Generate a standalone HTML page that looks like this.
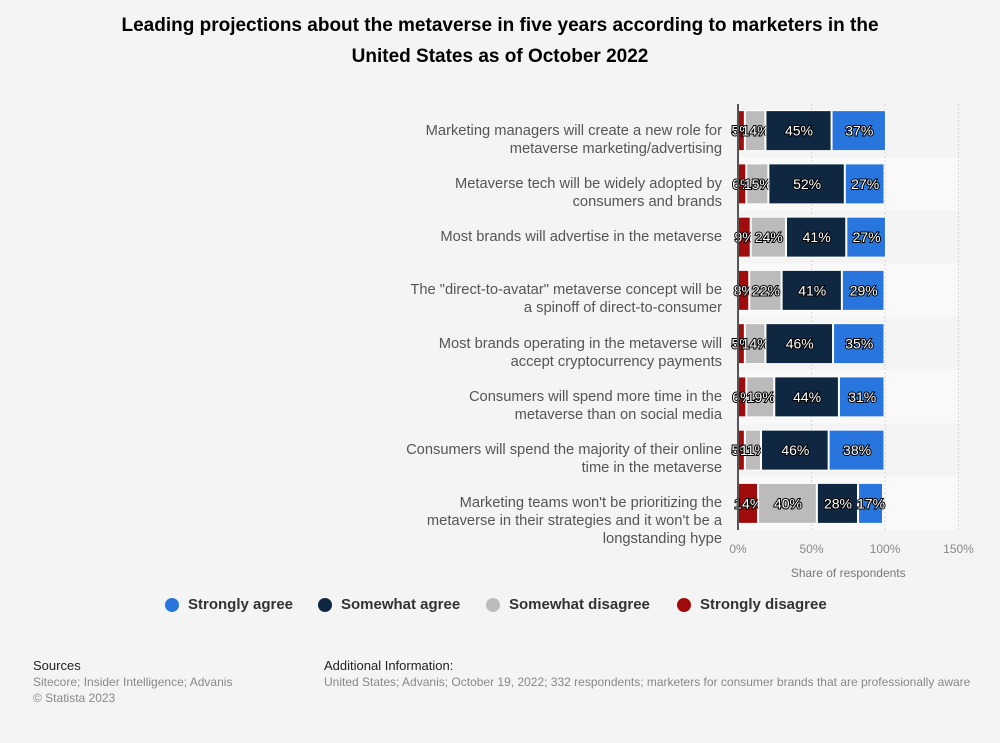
<!DOCTYPE html>
<html><head><meta charset="utf-8"><style>
body{margin:0;width:1000px;height:743px;background:#f4f4f4;font-family:"Liberation Sans",sans-serif;overflow:hidden;position:relative}
.t{position:absolute;left:0;width:1000px;top:10px;text-align:center;font-weight:bold;font-size:19px;line-height:31px;color:#000}
.lab{position:absolute;right:278px;text-align:right;font-size:14.7px;line-height:18px;color:#555;width:380px}
.leg{position:absolute;top:596px;font-size:15px;font-weight:bold;color:#333;display:flex;align-items:center}
.leg i{display:inline-block;width:14px;height:14px;border-radius:50%;margin-right:9px}
.ft{position:absolute;font-size:12px;line-height:16px;color:#888;white-space:nowrap;overflow:hidden}
.ft b{font-weight:normal;color:#222;font-size:13px}
</style></head><body>
<div class="t">Leading projections about the metaverse in five years according to marketers in the<br>United States as of October 2022</div>
<svg id="c" width="1000" height="743" style="position:absolute;left:0;top:0"></svg>
<div id="labs"></div>
<div class="leg" style="left:165px"><i style="background:#2876dd"></i>Strongly agree</div>
<div class="leg" style="left:318px"><i style="background:#0f2740"></i>Somewhat agree</div>
<div class="leg" style="left:486px"><i style="background:#bbbbbb"></i>Somewhat disagree</div>
<div class="leg" style="left:677px"><i style="background:#a00c0c"></i>Strongly disagree</div>
<div class="ft" style="left:33px;top:658px"><b>Sources</b><br>Sitecore; Insider Intelligence; Advanis<br>© Statista 2023</div>
<div class="ft" style="left:324px;top:658px;width:676px"><b>Additional Information:</b><br>United States; Advanis; October 19, 2022; 332 respondents; marketers for consumer brands that are professionally aware</div>
<script>
const categories=["Marketing managers will create a new role for<br>metaverse marketing/advertising","Metaverse tech will be widely adopted by<br>consumers and brands","Most brands will advertise in the metaverse","The \"direct-to-avatar\" metaverse concept will be<br>a spinoff of direct-to-consumer","Most brands operating in the metaverse will<br>accept cryptocurrency payments","Consumers will spend more time in the<br>metaverse than on social media","Consumers will spend the majority of their online<br>time in the metaverse","Marketing teams won't be prioritizing the<br>metaverse in their strategies and it won't be a<br>longstanding hype"];
const stronglyDisagree=[5,6,9,8,5,6,5,14];
const somewhatDisagree=[14,15,24,22,14,19,11,40];
const somewhatAgree=[45,52,41,41,46,44,46,28];
const stronglyAgree=[37,27,27,29,35,31,38,17];
const ticks=[0,50,100,150];
const series=[[stronglyDisagree,"#a00c0c","strongly-disagree"],[somewhatDisagree,"#bbbbbb","somewhat-disagree"],[somewhatAgree,"#0f2740","somewhat-agree"],[stronglyAgree,"#2876dd","strongly-agree"]];
const x0=738,pxPer=1.47,yTop=104,yBottom=530,band=(yBottom-yTop)/categories.length,bh=40;
const X=v=>x0+v*pxPer, Y=i=>yTop+band*i+band/2;
const svg=document.getElementById('c'),NS="http://www.w3.org/2000/svg";
function mk(t,a){const e=document.createElementNS(NS,t);for(const k in a)e.setAttribute(k,a[k]);svg.appendChild(e);return e;}
categories.forEach((c,i)=>{if(i%2==1){const r=mk('rect',{x:x0,y:yTop+band*i,width:X(150)-x0+2,height:band,fill:'#f9f9f9'});

}});
ticks.forEach(t=>{if(t>0){const l=mk('line',{x1:X(t),x2:X(t),y1:yTop,y2:yBottom,stroke:'#d6d6d6','stroke-dasharray':'2,2'});

}
const tx=mk('text',{x:X(t),y:553,'text-anchor':'middle','font-size':12,fill:'#888'});tx.textContent=t+'%';

});
const at=mk('text',{x:X(75),y:577,'text-anchor':'middle','font-size':12,fill:'#777'});at.textContent='Share of respondents';


const labs=document.getElementById('labs');
categories.forEach((c,i)=>{let acc=0;
series.forEach(([arr,col,nm])=>{const v=arr[i];const r=mk('rect',{x:X(acc),y:Y(i)-bh/2,width:Math.max(v*pxPer-1,0),height:bh,fill:col,stroke:'#fff','stroke-width':1});


const t=mk('text',{x:X(acc+v/2),y:Y(i)+5,'text-anchor':'middle','font-size':14,fill:'#fff',stroke:'#000','stroke-width':2,'paint-order':'stroke'});t.textContent=v+'%';


acc+=v;});
const d=document.createElement('div');d.className='lab';d.innerHTML=c;
d.style.top=(Y(i)-9)+'px';


labs.appendChild(d);});
const ax=mk('line',{x1:x0,x2:x0,y1:yTop,y2:yBottom,stroke:'#555','stroke-width':2});


</script>
</body></html>
